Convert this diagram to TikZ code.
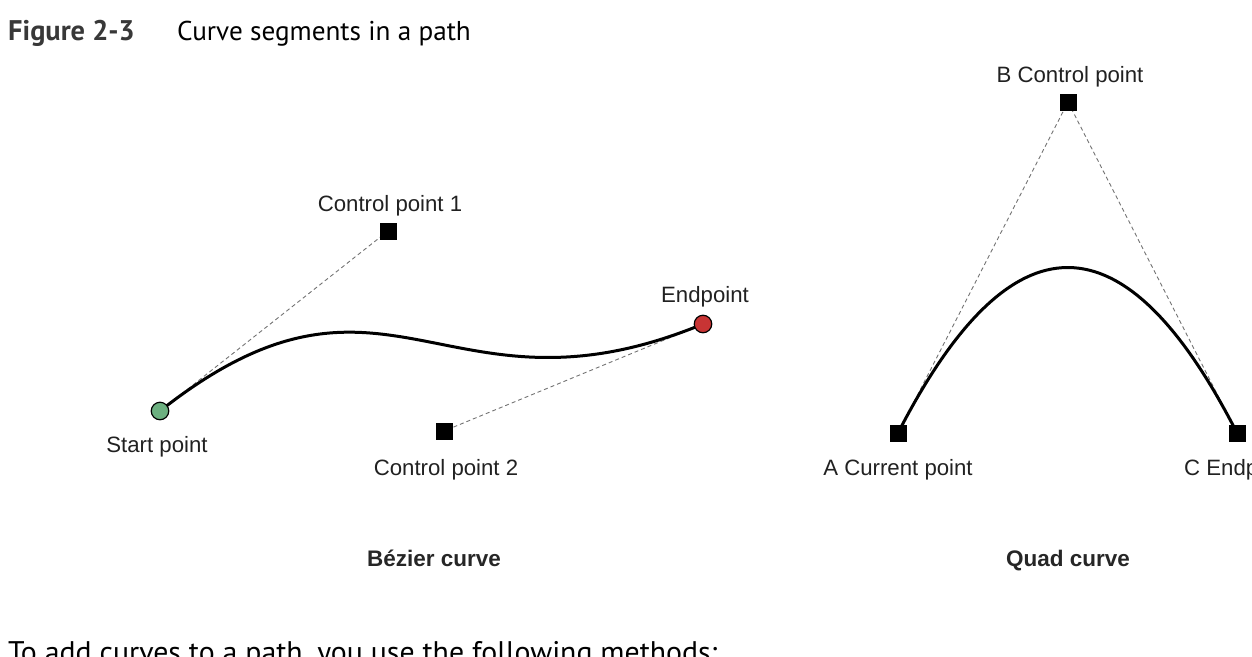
\documentclass[tikz,border=0pt]{standalone}
\usepackage{fontspec}
\usetikzlibrary{calc}
\setmainfont{Liberation Sans}
\newfontfamily\bookfont{PT Sans}
\begin{document}
\begin{tikzpicture}[x=1pt,y=-1pt,
  lbl/.style={font=\fontsize{22.2}{26}\selectfont, text=black!87, anchor=base, inner sep=0pt},
  captxt/.style={font=\fontsize{22.5}{26}\selectfont\bfseries, text=black!85, anchor=base, inner sep=0pt},
  sq/.style={rectangle, fill=black, minimum size=17pt, inner sep=0pt},
  pt/.style={circle, draw=black, line width=1.2pt, minimum size=17.5pt, inner sep=0pt},
  guide/.style={draw=black!55, line width=0.9pt, dash pattern=on 4pt off 3pt},
  crv/.style={draw=black, line width=3pt}]
\clip (0,0) rectangle (1252,656);
% title
\node[font=\bookfont\fontsize{28.4}{32}\selectfont\bfseries, text=black!78, anchor=base west, inner sep=0pt] (fig) at (8,40) {Figure 2-3};
\node[font=\bookfont\fontsize{27.2}{32}\selectfont, text=black, anchor=base west, inner sep=0pt] (ttl) at (177,40) {Curve segments in a path};
% Bezier
\coordinate (S) at (160,411);
\coordinate (C1) at (388,231);
\coordinate (C2) at (444,431);
\coordinate (E) at (703,324);
\draw[guide] (S) -- (C1);
\draw[guide] (E) -- (C2);
\draw[crv] (S) .. controls (C1) and (C2) .. (E);
\node[sq] (c1) at (C1) {};
\node[sq] (c2) at (C2) {};
\node[pt, fill={rgb,255:red,108;green,176;blue,128}] (s) at (S) {};
\node[pt, fill={rgb,255:red,200;green,52;blue,52}] (e) at (E) {};
\node[lbl] (lc1) at (390,211) {Control point 1};
\node[lbl] (lc2) at (446,475) {Control point 2};
\node[lbl] (ls) at (157,452) {Start point};
\node[lbl] (le) at (705,302) {Endpoint};
\node[captxt] (bz) at (434,566) {Bézier curve};
% Quad
\coordinate (A) at (898,433);
\coordinate (B) at (1068,102);
\coordinate (C) at (1237,433);
\draw[guide] (A) -- (B);
\draw[guide] (B) -- (C);
\draw[crv] (A) .. controls ($(A)!2/3!(B)$) and ($(C)!2/3!(B)$) .. (C);
\node[sq] (a) at (A) {};
\node[sq] (b) at (B) {};
\node[sq] (c) at (C) {};
\node[lbl] (lb) at (1070,82) {B Control point};
\node[lbl] (la) at (898,475) {A Current point};
\node[lbl, anchor=base west] (lcc) at (1184,475) {C Endpoint};
\node[captxt] (qd) at (1068,566) {Quad curve};
% following text
\node[font=\bookfont\fontsize{29.8}{34}\selectfont, text=black, anchor=base west, inner sep=0pt] (body) at (8,662) {To add curves to a path, you use the following methods:};
\end{tikzpicture}
\end{document}
